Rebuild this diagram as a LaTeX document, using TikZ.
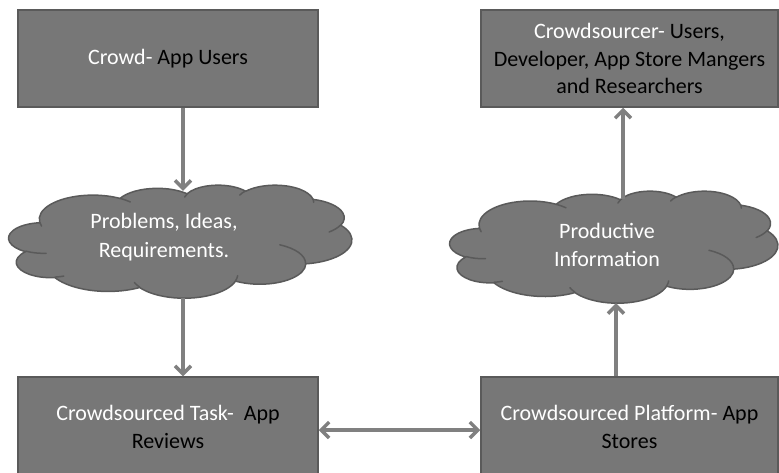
\documentclass[tikz,border=0pt]{standalone}
\usepackage{fontspec}
\setmainfont{Carlito}
\usetikzlibrary{arrows.meta,calc}
\definecolor{boxfill}{HTML}{777777}
\definecolor{boxline}{HTML}{5A5A5A}
\definecolor{arrowgray}{HTML}{808080}
\newcommand\ooprep[4]{%
  \pgfmathparse{atan2(#1*sin(#3),#2*cos(#3))}\xdef\oots{\pgfmathresult}%
  \pgfmathparse{atan2(#1*sin(#3+#4),#2*cos(#3+#4))}\xdef\ooteraw{\pgfmathresult}%
  \pgfmathparse{mod(\ooteraw-\oots+720,360)}\xdef\oodelta{\pgfmathresult}%
}
\newcommand\ooarc[4]{\pgfextra{\ooprep{#1}{#2}{#3}{#4}} arc[x radius=#1pt,y radius=#2pt,start angle=\oots,delta angle=\oodelta]}
\newcommand\cloudoutline{(3.9pt,14.37pt)
 \ooarc{6.753}{9.190}{-190.48748}{123.78053}
 \ooarc{5.333}{7.267}{-144.10238}{89.94523}
 \ooarc{4.365}{5.945}{-145.80792}{99.72302}
 \ooarc{4.857}{6.595}{-130.98607}{117.24173}
 \ooarc{5.333}{7.273}{-78.70888}{109.02692}
 \ooarc{6.775}{9.220}{-46.26725}{130.269}
 \ooarc{5.785}{7.867}{0.62502}{114.03333}
 \ooarc{6.752}{9.215}{22.4516}{115.17255}
 \ooarc{7.720}{10.543}{66.24263}{75.71102}
 \ooarc{4.360}{5.918}{-274.94208}{146.73557}
 \ooarc{4.345}{5.945}{-246.8285}{152.51885}
 -- cycle}
\newcommand\cloudinner{(4.693pt,26.177pt) \ooarc{4.345}{5.945}{86.742}{26.4295}
 (6.928pt,34.899pt) \ooarc{4.360}{5.918}{73.61047}{11.44747}
 (16.478pt,39.090pt) \ooarc{6.752}{9.215}{137.62415}{14.0811}
 (28.827pt,34.751pt) \ooarc{6.752}{9.215}{6.45327}{15.99835}
 (34.129pt,22.954pt) \ooarc{5.785}{7.867}{-70.29235}{70.91737}
 (41.798pt,15.354pt) \ooarc{5.333}{7.273}{30.31803}{27.7515}
 (38.324pt,5.426pt) \ooarc{4.857}{6.595}{-13.74433}{14.8589}
 (29.078pt,3.952pt) \ooarc{4.857}{6.595}{-149.18145}{18.19537}
 (22.141pt,4.720pt) \ooarc{4.365}{5.945}{-163.49427}{17.68635}
 (14.000pt,5.192pt) \ooarc{6.753}{9.190}{-66.70695}{12.31935}
 (4.127pt,15.789pt) \ooarc{6.753}{9.190}{157.65435}{11.85817}}
\newcommand\drawcloud[3]{%
  \begin{scope}[shift={(#1.north west)}, xscale=#2/43.2, yscale=-#3/43.2]
    \path[cloudshape] \cloudoutline;
    \path[cloudinnerst] \cloudinner;
  \end{scope}}
\tikzset{
  box/.style={draw=boxline, line width=1.5pt, fill=boxfill, inner sep=0pt,
    align=center, text=black, font=\fontsize{22}{27.5}\selectfont},
  cloudbox/.style={inner sep=0pt, draw=none},
  cloudtext/.style={align=center, text=white, inner sep=0pt, font=\fontsize{22}{28.5}\selectfont},
  cloudshape/.style={fill=boxfill, draw=boxline, line width=1.5pt, line join=round},
  cloudinnerst/.style={draw=boxline, line width=1.5pt, line cap=round},
  arr/.style={draw=arrowgray, line width=3.5pt, -{Straight Barb[length=8pt,width=16pt]}},
  arrboth/.style={draw=arrowgray, line width=3.5pt, {Straight Barb[length=8pt,width=16pt]}-{Straight Barb[length=8pt,width=16pt]}}
}
\begin{document}
\begin{tikzpicture}[x=1pt,y=-1pt]
\useasboundingbox (0,0) rectangle (779,472);
\clip (0,0) rectangle (779,472);
\node[box, minimum width=300pt, minimum height=97pt] (b1) at (168,58.5)
  {\textcolor{white}{Crowd-} App Users};
\node[box, minimum width=297pt, minimum height=97pt] (b2) at (629.5,58.5)
  {\textcolor{white}{Crowdsourcer-} Users,\\Developer, App Store Mangers\\and Researchers};
\node[box, minimum width=300pt, minimum height=100pt] (b3) at (168,427)
  {\textcolor{white}{Crowdsourced Task-}\ \ App\\Reviews};
\node[box, minimum width=297pt, minimum height=100pt] (b4) at (629.5,427)
  {\textcolor{white}{Crowdsourced Platform-} App\\Stores};
\node[cloudbox, minimum width=343pt, minimum height=113pt] (c1) at (180.5,241.5) {};
\node[cloudbox, minimum width=328pt, minimum height=112pt] (c2) at (614,247) {};
\drawcloud{c1}{343}{113}
\drawcloud{c2}{328}{112}
\node[cloudtext] (t1) at (164,237) {Problems, Ideas,\\Requirements.};
\node[cloudtext] (t2) at (607,245) {Productive\\Information};
\coordinate (xl) at (183,0);
\coordinate (xr1) at (616,0);
\coordinate (xr2) at (623,0);
\coordinate (yh) at (0,430);
\draw[arr] (b1.south -| xl) -- ([yshift=-6pt]c1.north -| xl);
\draw[arr] (c1.south -| xl) -- (b3.north -| xl);
\draw[arr] (b4.north -| xr1) -- (c2.south -| xr1);
\draw[arr] ([yshift=-8pt]c2.north -| xr2) -- (b2.south -| xr2);
\draw[arrboth] (b3.east |- yh) -- (b4.west |- yh);
\end{tikzpicture}
\end{document}
